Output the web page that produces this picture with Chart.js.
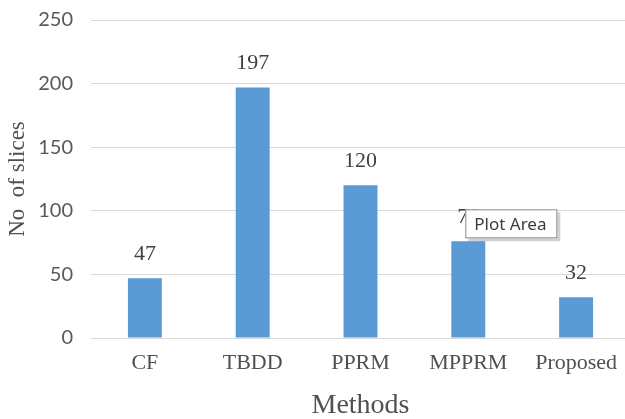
<!DOCTYPE html>
<html lang="en">
<head>
    <meta charset="UTF-8">
    <title>No of slices by method</title>
    <script src="https://cdn.jsdelivr.net/npm/chart.js"></script>
    <style>
        body { margin: 0; overflow: hidden; background: #fff; }
        #caixa { width: 630px; height: 429px; margin-top: -10px; }
    </style>
</head>
<body>
    <div id="caixa"><canvas id="grafico"></canvas></div>
<script>
    // dados
    const metodos = ['CF', 'TBDD', 'PPRM', 'MPPRM', 'Proposed'];
    const fatias = [47, 197, 120, 76, 32];
    const ticksY = [0, 50, 100, 150, 200, 250];

    // rotulos de valor acima das barras
    const rotulos = {
        id: 'rotulos',
        afterDatasetsDraw(chart) {
            const ctx = chart.ctx;
            const meta = chart.getDatasetMeta(0);
            ctx.save();
            ctx.font = '22px "Liberation Serif"';
            ctx.fillStyle = '#404040';
            ctx.textAlign = 'center';
            ctx.textBaseline = 'alphabetic';
            meta.data.forEach(function (barra, i) {
                ctx.fillText(String(fatias[i]), barra.x, barra.y - 18);
            });
            ctx.restore();
        }
    };

    // caixinha "Plot Area" que aparece na imagem original
    const dica = {
        id: 'dica',
        afterDraw(chart) {
            const ctx = chart.ctx;
            const barra = chart.getDatasetMeta(0).data[3];
            const x = barra.x - 3, y = barra.y - 32, w = 92, h = 29;
            ctx.save();
            ctx.fillStyle = 'rgba(0,0,0,0.18)';
            ctx.fillRect(x + 3, y + 3, w, h);
            ctx.fillStyle = '#fff';
            ctx.fillRect(x, y, w, h);
            ctx.strokeStyle = '#8a8a8a';
            ctx.lineWidth = 1;
            ctx.strokeRect(x + 0.5, y + 0.5, w - 1, h - 1);
            ctx.font = '17px "Noto Sans"';
            ctx.fillStyle = '#3c3c3c';
            ctx.textAlign = 'left';
            ctx.textBaseline = 'middle';
            ctx.fillText('Plot Area', x + 9, y + h / 2 + 1);
            ctx.restore();
        }
    };

    const config = {
        type: 'bar',
        data: {
            labels: metodos,
            datasets: [{
                data: fatias,
                backgroundColor: '#5B9BD5',
                barPercentage: 0.315,
                categoryPercentage: 1
            }]
        },
        options: {
            responsive: true,
            maintainAspectRatio: false,
            animation: false,
            layout: { padding: { top: 7, right: 0, bottom: 0, left: 0 } },
            plugins: {
                legend: { display: false },
                tooltip: { enabled: false }
            },
            scales: {
                x: {
                    grid: { display: false, drawTicks: false },
                    border: { color: '#d9d9d9' },
                    ticks: {
                        padding: 12,
                        color: '#505050',
                        font: { family: '"Liberation Serif"', size: 22 }
                    },
                    title: {
                        display: true,
                        text: 'Methods',
                        color: '#505050',
                        font: { family: '"Liberation Serif"', size: 28 },
                        padding: { top: 0, bottom: -3 }
                    },
                    afterFit(scale) { scale.height = 81; }
                },
                y: {
                    min: 0,
                    max: 250,
                    afterBuildTicks(scale) {
                        scale.ticks = ticksY.map(function (v) { return { value: v }; });
                    },
                    grid: { color: '#d9d9d9', drawTicks: false },
                    border: { display: false },
                    ticks: {
                        padding: 18,
                        color: '#595959',
                        font: { family: 'Lato', size: 20 }
                    },
                    title: {
                        display: true,
                        text: 'No  of slices',
                        color: '#505050',
                        font: { family: '"Liberation Serif"', size: 23 },
                        padding: { top: 4, bottom: 0 }
                    },
                    afterFit(scale) { scale.width = 91; }
                }
            }
        },
        plugins: [rotulos, dica]
    };

    new Chart(document.getElementById('grafico'), config);
</script>
</body>
</html>
